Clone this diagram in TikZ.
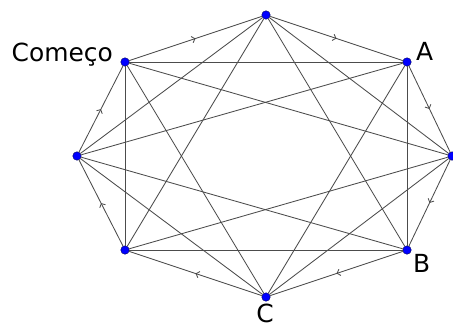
\documentclass[tikz,border=0pt]{standalone}
\usepackage{fontspec}
\setmainfont{DejaVu Sans}
\usetikzlibrary{positioning,arrows.meta,decorations.markings}

\begin{document}
\begin{tikzpicture}[x=1bp,y=-1bp,
    vert/.style={circle,draw=blue!35!black,fill=blue,inner sep=0pt,minimum size=8.5bp},
    edge/.style={draw=black!70,line width=0.85bp},
    flow/.style={edge,postaction={decorate,decoration={markings,
        mark=at position 0.5 with {\arrow{Straight Barb[length=3bp,width=6.5bp]}}}}},
    lbl/.style={font=\fontsize{25}{25}\selectfont,inner sep=0pt}]
  \useasboundingbox (0,0) rectangle (453,327);
  % vertices of the octagon
  \node[vert] (T)  at (266,15)  {};
  \node[vert] (A)  at (407,62)  {};
  \node[vert] (R)  at (452,156) {};
  \node[vert] (B)  at (407,250) {};
  \node[vert] (C)  at (266,297) {};
  \node[vert] (BL) at (125,250) {};
  \node[vert] (L)  at (77,156)  {};
  \node[vert] (S)  at (125,62)  {};
  % labels
  \node[lbl,anchor=base east] (lS) at (113,61) {Começo};
  \node[lbl,anchor=base west] (lA) at (416,60) {A};
  \node[lbl,anchor=base west] (lB) at (413,272) {B};
  \node[lbl,anchor=base] (lC) at (265,322) {C};
  % directed tour round the outside
  \draw[flow] (S) -- (T);
  \draw[flow] (T) -- (A);
  \draw[flow] (A) -- (R);
  \draw[flow] (R) -- (B);
  \draw[flow] (B) -- (C);
  \draw[flow] (C) -- (BL);
  \draw[flow] (BL) -- (L);
  \draw[flow] (L) -- (S);
  % short diagonals
  \draw[edge] (T) -- (R);
  \draw[edge] (A) -- (B);
  \draw[edge] (R) -- (C);
  \draw[edge] (B) -- (BL);
  \draw[edge] (C) -- (L);
  \draw[edge] (BL) -- (S);
  \draw[edge] (L) -- (T);
  \draw[edge] (S) -- (A);
  % long diagonals
  \draw[edge] (T) -- (B);
  \draw[edge] (A) -- (C);
  \draw[edge] (R) -- (BL);
  \draw[edge] (B) -- (L);
  \draw[edge] (C) -- (S);
  \draw[edge] (BL) -- (T);
  \draw[edge] (L) -- (A);
  \draw[edge] (S) -- (R);
\end{tikzpicture}
\end{document}
